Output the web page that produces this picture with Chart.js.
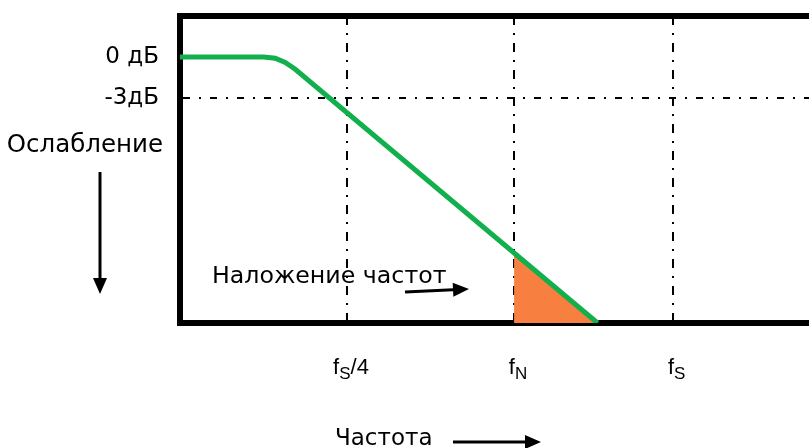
<!DOCTYPE html>
<html>
<head>
<meta charset="utf-8">
<script src="https://cdn.jsdelivr.net/npm/chart.js@4"></script>
<style>
  body { margin: 0; background: #fff; }
</style>
</head>
<body>
<canvas id="filter" width="809" height="448"></canvas>
<script>
// filter response, x in grid units (fS/4 = 1, fN = 2), y in dB
const responseX = [0, 0.5, 0.57, 0.63, 0.69, 2.5];
const responseY = [0, 0, -0.1, -0.4, -0.9, -19.5];
// aliased part beyond fN
const aliasX = [2, 2.5];
const aliasY = [-14.3, -19.5];

const xTicks = [1, 2, 2.95];
const xTickMain = ["f", "f", "f"];
const xTickSub = ["S", "N", "S"];
const xTickTail = ["/4", "", ""];

const yTicks = [0, -3];
const yTickLabels = ["0 дБ", "-3дБ"];

const yTitle = "Ослабление";
const xTitle = "Частота";
const aliasText = "Наложение частот";

const green = "#12b04c";
const orange = "#f77f3f";

Chart.defaults.font.family = "DejaVu Sans";
Chart.defaults.color = "#000";

function arrow(ctx, x1, y1, x2, y2) {
  const a = Math.atan2(y2 - y1, x2 - x1);
  const len = 16, half = 7;
  const bx = x2 - len * Math.cos(a), by = y2 - len * Math.sin(a);
  ctx.lineWidth = 3;
  ctx.beginPath();
  ctx.moveTo(x1, y1);
  ctx.lineTo(bx, by);
  ctx.stroke();
  ctx.beginPath();
  ctx.moveTo(x2, y2);
  ctx.lineTo(bx + half * Math.sin(a), by - half * Math.cos(a));
  ctx.lineTo(bx - half * Math.sin(a), by + half * Math.cos(a));
  ctx.closePath();
  ctx.fill();
}

const notes = {
  id: "notes",
  afterDraw(chart) {
    const { ctx } = chart;
    const x = chart.scales.x;
    ctx.save();
    ctx.fillStyle = "#000";
    ctx.strokeStyle = "#000";

    ctx.font = '24.5px "DejaVu Sans"';
    ctx.textAlign = "right";
    ctx.textBaseline = "middle";
    ctx.fillText(yTitle, 163, 146);
    ctx.textAlign = "left";
    ctx.textBaseline = "alphabetic";
    ctx.font = '23.7px "DejaVu Sans"';
    ctx.fillText(aliasText, 212, 283);
    ctx.font = '23px "DejaVu Sans"';
    ctx.fillText(xTitle, 335, 445);

    arrow(ctx, 100, 172, 100, 294);
    arrow(ctx, 405, 292, 469, 289);
    arrow(ctx, 453, 442, 541, 442);

    // tick labels with subscripts
    const mainFont = '22px "Liberation Sans"';
    const subFont = '17px "Liberation Sans"';
    xTicks.forEach((v, i) => {
      ctx.font = mainFont;
      const w1 = ctx.measureText(xTickMain[i]).width;
      const w3 = ctx.measureText(xTickTail[i]).width;
      ctx.font = subFont;
      const w2 = ctx.measureText(xTickSub[i]).width;
      let px = x.getPixelForValue(v) - (w1 + w2 + w3) / 2 + 4;
      ctx.font = mainFont;
      ctx.fillText(xTickMain[i], px, 374);
      px += w1;
      ctx.font = subFont;
      ctx.fillText(xTickSub[i], px, 379);
      px += w2;
      ctx.font = mainFont;
      ctx.fillText(xTickTail[i], px, 374);
    });
    ctx.restore();
  },
};

new Chart(document.getElementById("filter"), {
  type: "line",
  data: {
    datasets: [
      {
        data: responseX.map((v, i) => ({ x: v, y: responseY[i] })),
        borderColor: green,
        borderWidth: 5,
        pointRadius: 0,
        tension: 0,
        fill: false,
      },
      {
        data: aliasX.map((v, i) => ({ x: v, y: aliasY[i] })),
        borderWidth: 0,
        borderColor: "rgba(0,0,0,0)",
        backgroundColor: orange,
        pointRadius: 0,
        fill: "start",
      },
    ],
  },
  plugins: [notes],
  options: {
    responsive: false,
    animation: false,
    layout: { padding: 0 },
    plugins: { legend: { display: false }, tooltip: { enabled: false } },
    scales: {
      x: {
        type: "linear",
        min: 0,
        max: 3.766,
        afterBuildTicks: (s) => { s.ticks = xTicks.map((v) => ({ value: v })); },
        afterFit: (s) => { s.height = 125; s.paddingLeft = 0; s.paddingRight = 0; },
        ticks: { display: false },
        grid: { color: "#000", lineWidth: 2, drawTicks: false },
        border: { display: true, color: "#000", width: 6, dash: [9, 8, 2, 8] },
      },
      top: {
        type: "linear",
        position: "top",
        min: 0,
        max: 3.766,
        afterFit: (s) => { s.height = 16; s.paddingLeft = 0; s.paddingRight = 0; },
        ticks: { display: false },
        grid: { display: false },
        border: { display: true, color: "#000", width: 6 },
      },
      y: {
        min: -19.5,
        max: 3,
        afterBuildTicks: (s) => { s.ticks = yTicks.map((v) => ({ value: v })); },
        afterFit: (s) => { s.width = 180; s.paddingTop = 0; s.paddingBottom = 0; },
        ticks: {
          padding: 21,
          font: { size: 23, family: "DejaVu Sans" },
          color: "#000",
          callback: (v) => yTickLabels[yTicks.indexOf(v)],
        },
        grid: {
          drawTicks: false,
          lineWidth: 2,
          color: (c) => (c.tick && c.tick.value === -3 ? "#000" : "rgba(0,0,0,0)"),
        },
        border: { display: true, color: "#000", width: 6, dash: [7, 9, 2, 9] },
      },
    },
  },
});
</script>
</body>
</html>
